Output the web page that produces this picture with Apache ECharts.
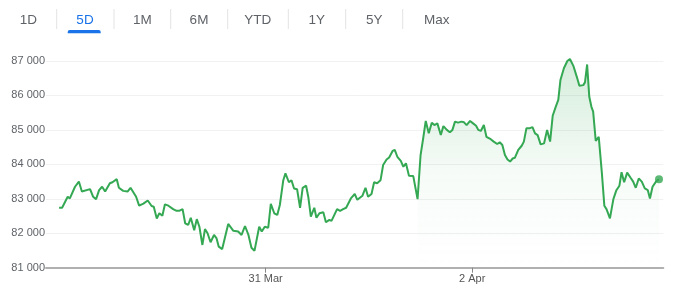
<!DOCTYPE html>
<html>
<head>
<meta charset="utf-8">
<script src="https://cdn.jsdelivr.net/npm/echarts@6/dist/echarts.min.js"></script>
<style>
html,body{margin:0;padding:0;background:#fff;}
#c{width:679px;height:293px;}
</style>
</head>
<body>
<div id="c"></div>
<script>
// Hours since 29 Mar 00:00
const hours = [0.0,0.7,2.0,2.5,3.7,4.6,5.3,7.2,7.9,8.6,9.3,10.0,10.7,11.8,12.4,12.8,13.4,13.9,14.9,15.9,16.6,17.9,18.6,19.6,20.6,21.5,22.0,22.7,23.3,24.0,24.6,25.4,26.5,27.3,27.9,28.7,29.3,30.0,30.6,31.4,32.0,32.6,33.3,33.9,34.5,35.2,36.0,36.6,37.1,37.9,39.3,40.5,41.6,42.4,43.2,44.0,44.7,45.4,46.5,47.1,47.8,48.6,49.2,50.0,50.7,51.3,52.1,52.6,53.4,54.0,54.6,55.3,56.0,56.6,57.4,57.9,58.5,59.3,59.8,60.5,61.4,62.0,62.8,63.3,64.6,65.3,66.0,66.7,67.8,68.7,69.3,70.5,71.2,71.8,72.6,73.2,73.9,74.7,75.3,76.1,76.7,77.5,78.0,78.6,79.4,80.0,80.6,81.3,82.3,82.7,83.3,84.0,84.6,85.2,85.9,86.6,87.2,87.9,88.7,89.3,90.1,90.8,91.4,92.0,92.7,93.5,94.1,94.7,95.5,96.2,96.9,97.4,98.0,98.7,99.3,100.3,101.0,101.8,102.4,103.0,103.6,104.2,104.8,105.4,105.9,106.7,107.5,108.0,108.6,109.4,110.0,110.6,111.2,111.9,112.7,113.4,114.1,114.7,115.4,116.0,116.5,117.3,118.1,118.7,119.5,120.3,120.9,121.8,122.2,122.7,123.2,123.7,124.1,124.7,125.4,126.1,126.7,127.2,128.0,128.8,129.5,130.2,130.7,131.3,132.0,132.8,133.4,134.0,134.7,135.4,136.1,136.8,137.3,137.9,138.7,139.4];
const prices = [82740,82740,83060,83010,83350,83500,83210,83280,83060,82990,83250,83350,83210,83450,83480,83480,83570,83320,83230,83210,83320,83060,82800,82860,82950,82790,82770,82430,82580,82510,82840,82800,82700,82650,82650,82700,82290,82240,82450,82090,82410,82190,81660,82120,82000,81740,81950,81850,81610,81540,82270,82070,82050,81950,82210,81950,81580,81490,82190,82050,82190,82160,82850,82580,82530,82820,83540,83740,83480,83540,83300,83280,82740,83320,83380,83060,82480,82740,82450,82580,82610,82320,82390,82360,82700,82650,82700,82740,83010,83140,82970,83090,83320,83060,83140,83480,83450,83540,83980,84140,84200,84390,84420,84220,84100,83930,84030,83670,83660,83650,82990,84270,84750,85260,84900,85210,85140,85190,84850,85110,85000,84930,85000,85240,85210,85240,85220,85140,85260,85190,85120,85000,84970,85140,84800,84730,84660,84590,84640,84560,84270,84140,84080,84170,84190,84420,84540,84660,85050,85050,85080,84900,84850,84580,84610,85000,84660,85410,85670,85870,86450,86790,87000,87060,86860,86540,86280,86300,86380,86900,85960,85670,85530,84680,84800,83790,82800,82700,82430,82990,83250,83380,83770,83480,83760,83610,83500,83320,83590,83500,83300,83250,83010,83350,83500,83570];
const areaStartHour = 83.3;
const xTickHours = [48, 96];
const xTickLabels = ['31 Mar', '2 Apr'];
const yTicks = [81000, 82000, 83000, 84000, 85000, 86000, 87000];
const tabs = ['1D', '5D', '1M', '6M', 'YTD', '1Y', '5Y', 'Max'];
const activeTab = '5D';

const lineData = hours.map((h, i) => [h, prices[i]]);
const areaData = lineData.filter(d => d[0] >= areaStartHour);
const last = lineData[lineData.length - 1];

const FONT = 'Arial, "Liberation Sans", sans-serif';
const tabCenters = [28.3, 85, 142.3, 199, 257.7, 316.7, 374.3, 436.7];
const sepX = [56.7, 114, 170.7, 227.7, 288.3, 345.7, 402.7];
const graphics = [];
tabs.forEach((t, i) => {
  graphics.push({
    type: 'text', x: tabCenters[i], y: 20,
    style: { text: t, fontSize: 13.5, fontFamily: FONT,
      fill: t === activeTab ? '#1a73e8' : '#5f6368', align: 'center', verticalAlign: 'middle' }
  });
});
sepX.forEach(x => {
  graphics.push({ type: 'line', shape: { x1: x, y1: 9, x2: x, y2: 29 },
    style: { stroke: '#e3e3e3', lineWidth: 1 } });
});
graphics.push({ type: 'rect', shape: { x: 67.7, y: 30, width: 33, height: 3.3, r: [2, 2, 0, 0] },
  style: { fill: '#1a73e8' } });

const chart = echarts.init(document.getElementById('c'), null, { renderer: 'canvas' });
chart.setOption({
  animation: false,
  graphic: graphics,
  grid: { left: 46, right: 15.7, top: 61, bottom: 25.3 },
  xAxis: {
    type: 'value', min: -3.04, max: 140.4,
    axisLine: { show: true, lineStyle: { color: '#b0b0b0', width: 2 } },
    axisTick: { show: true, customValues: xTickHours, length: 5, lineStyle: { color: '#888', width: 1 } },
    axisLabel: { customValues: xTickHours, fontSize: 11, fontFamily: FONT, color: '#555', margin: 6,
      formatter: v => xTickLabels[xTickHours.indexOf(v)] || '' },
    splitLine: { show: false }
  },
  yAxis: {
    type: 'value', min: yTicks[0], max: yTicks[yTicks.length - 1], interval: 1000,
    axisLine: { show: false }, axisTick: { show: false },
    axisLabel: { fontSize: 11, fontFamily: FONT, color: '#5f6368', margin: 1,
      formatter: v => String(v).replace(/\B(?=(\d{3})+(?!\d))/g, ' ') },
    splitLine: { lineStyle: { color: '#f1f1f1', width: 1 } }
  },
  series: [
    {
      type: 'line', data: areaData, showSymbol: false, silent: true, clip: false,
      lineStyle: { width: 0 },
      areaStyle: { origin: 'start', color: new echarts.graphic.LinearGradient(0, 0, 0, 1, [
        { offset: 0, color: 'rgba(52,168,83,0.30)' },
        { offset: 0.55, color: 'rgba(52,168,83,0.06)' },
        { offset: 1, color: 'rgba(52,168,83,0.0)' }
      ]) },
      z: 1
    },
    {
      type: 'line', data: lineData, showSymbol: false, clip: false,
      lineStyle: { color: '#34a853', width: 2 }, z: 2
    },
    {
      type: 'scatter', data: [last], symbolSize: 8,
      itemStyle: { color: '#34a853' }, z: 3
    }
  ]
});
</script>
</body>
</html>
